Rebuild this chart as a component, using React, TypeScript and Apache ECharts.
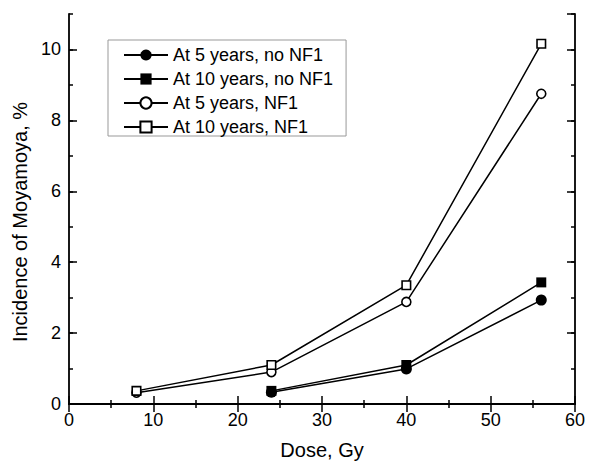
import React, { useEffect, useRef } from 'react';
import * as echarts from 'echarts';

const legendNames = ['At 5 years, no NF1', 'At 10 years, no NF1', 'At 5 years, NF1', 'At 10 years, NF1'];
const dose5NoNF1 = [24, 40, 56];
const inc5NoNF1 = [0.33, 0.99, 2.93];
const dose10NoNF1 = [24, 40, 56];
const inc10NoNF1 = [0.37, 1.1, 3.43];
const dose5NF1 = [8, 24, 40, 56];
const inc5NF1 = [0.32, 0.9, 2.88, 8.75];
const dose10NF1 = [8, 24, 40, 56];
const inc10NF1 = [0.37, 1.1, 3.35, 10.16];

const FONT = '"Liberation Sans", Arial, Helvetica, sans-serif';

function pairs(xs: number[], ys: number[]) {
  return xs.map((x, i) => [x, ys[i]]);
}

export default function App() {
  const ref = useRef<HTMLDivElement>(null);
  useEffect(() => {
    if (!ref.current) return;
    const chart = echarts.init(ref.current, undefined, { renderer: 'svg' });
    const axisLine = { show: true, lineStyle: { color: '#000', width: 1.8 } };
    const tickStyle = { color: '#000', width: 1.5 };
    const baseX = {
      type: 'value' as const,
      min: 0,
      max: 60,
      interval: 10,
      splitLine: { show: false },
      axisLine,
      axisTick: { show: true, inside: true, length: 8, lineStyle: tickStyle },
      minorTick: { show: true, splitNumber: 2, length: 4, lineStyle: tickStyle },
    };
    const baseY = {
      type: 'value' as const,
      min: 0,
      max: 11,
      splitLine: { show: false },
    };
    const mkSeries = (name: string, data: number[][], symbol: string, size: number, filled: boolean) => ({
      name,
      type: 'line' as const,
      data,
      symbol,
      symbolSize: size,
      showAllSymbol: true,
      lineStyle: { color: '#000', width: 1.5 },
      itemStyle: filled
        ? { color: '#000', borderColor: '#000', borderWidth: 0 }
        : { color: '#fff', borderColor: '#000', borderWidth: 1.6 },
      z: 3,
    });
    chart.setOption({
      animation: false,
      backgroundColor: '#fff',
      textStyle: { fontFamily: FONT },
      grid: { left: 69, right: 14, top: 14, bottom: 59, containLabel: false, outerBoundsMode: 'none' },
      legend: {
        orient: 'vertical',
        left: 108,
        top: 40,
        itemWidth: 44,
        itemHeight: 14,
        itemGap: 6,
        padding: [6, 13, 0, 15],
        borderColor: '#999',
        borderWidth: 1,
        backgroundColor: '#fff',
        textStyle: { fontSize: 18, color: '#000', fontFamily: FONT, lineHeight: 18 },
        data: legendNames,
      },
      xAxis: [
        {
          ...baseX,
          position: 'bottom',
          axisLabel: { show: true, fontSize: 18, color: '#000', margin: 7, fontFamily: FONT },
          name: 'Dose, Gy',
          nameLocation: 'middle',
          nameGap: 36,
          nameTextStyle: { fontSize: 20, color: '#000', fontFamily: FONT },
        },
        {
          ...baseX,
          position: 'top',
          axisLabel: { show: false },
        },
      ],
      yAxis: [
        {
          ...baseY,
          position: 'left',
          interval: 2,
          axisLine,
          axisTick: { show: true, inside: true, length: 8, lineStyle: tickStyle },
          axisLabel: { show: true, fontSize: 18, color: '#000', margin: 8, showMaxLabel: false, fontFamily: FONT },
          name: 'Incidence of Moyamoya, %',
          nameLocation: 'middle',
          nameGap: 38,
          nameTextStyle: { fontSize: 20, color: '#000', fontFamily: FONT, padding: [0, 26, 0, 0] },
        },
        {
          ...baseY,
          position: 'left',
          interval: 1,
          axisLine: { show: false },
          axisTick: { show: true, inside: true, length: 4, lineStyle: tickStyle },
          axisLabel: { show: false },
        },
        {
          ...baseY,
          position: 'right',
          interval: 2,
          axisLine,
          axisTick: { show: true, inside: true, length: 8, lineStyle: tickStyle },
          axisLabel: { show: false },
        },
        {
          ...baseY,
          position: 'right',
          interval: 1,
          axisLine: { show: false },
          axisTick: { show: true, inside: true, length: 4, lineStyle: tickStyle },
          axisLabel: { show: false },
        },
      ],
      series: [
        mkSeries(legendNames[0], pairs(dose5NoNF1, inc5NoNF1), 'circle', 11, true),
        mkSeries(legendNames[1], pairs(dose10NoNF1, inc10NoNF1), 'rect', 10, true),
        mkSeries(legendNames[2], pairs(dose5NF1, inc5NF1), 'circle', 9, false),
        mkSeries(legendNames[3], pairs(dose10NF1, inc10NF1), 'rect', 8.5, false),
      ],
    });
    return () => chart.dispose();
  }, []);
  return <div ref={ref} style={{ width: 589, height: 463, position: 'absolute', left: 0, top: 0 }} />;
}
